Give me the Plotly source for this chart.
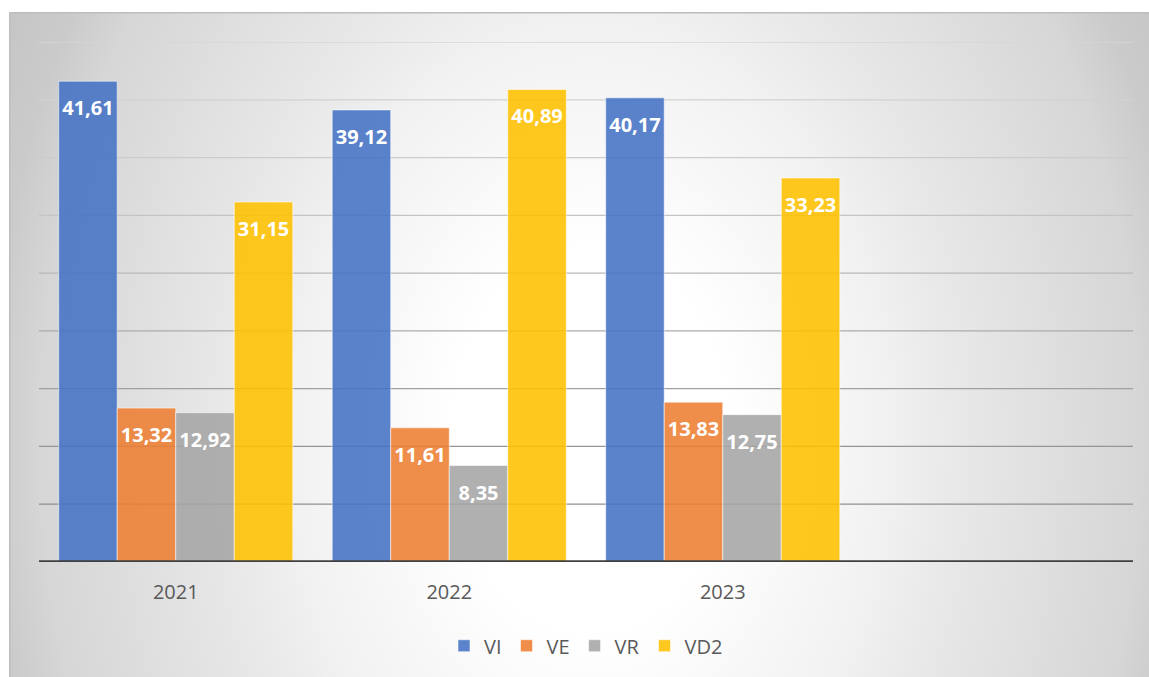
import base64
import plotly.graph_objects as go

# ---- data ----
years = ["2021", "2022", "2023"]
series_names = ["VI", "VE", "VR", "VD2"]
vi = [41.61, 39.12, 40.17]
ve = [13.32, 11.61, 13.83]
vr = [12.92, 8.35, 12.75]
vd2 = [31.15, 40.89, 33.23]
y_ticks = [5, 10, 15, 20, 25, 30, 35, 40, 45]

series_values = [vi, ve, vr, vd2]
series_colors = ["rgba(68,114,196,0.88)", "rgba(237,125,49,0.88)",
                 "rgba(165,165,165,0.88)", "rgba(255,192,0,0.88)"]

W, H = 1149, 677
ML, MR, MT, MB = 39, 16, 42, 115
PW, PH = W - ML - MR, H - MT - MB

# ---- radial gradient background (chart area) ----
FX, FY = 9, 12
FW, FH = 1150, 670
cx, cy = 581, 428
svg = f"""<svg xmlns='http://www.w3.org/2000/svg' width='{FW}' height='{FH}' viewBox='0 0 {FW} {FH}' preserveAspectRatio='none'>
<defs><radialGradient id='g' gradientUnits='userSpaceOnUse' cx='{cx}' cy='{cy}' r='680'
 gradientTransform='translate({cx} {cy}) scale(1 1.4) translate({-cx} {-cy})'>
<stop offset='0' stop-color='#ffffff'/>
<stop offset='0.2' stop-color='#ffffff'/>
<stop offset='0.44' stop-color='#f1f1f1'/>
<stop offset='0.53' stop-color='#e9e9e9'/>
<stop offset='0.81' stop-color='#d6d6d6'/>
<stop offset='0.88' stop-color='#cbcbcb'/>
<stop offset='0.97' stop-color='#c5c5c5'/>
<stop offset='1' stop-color='#c4c4c4'/>
</radialGradient></defs>
<rect x='0' y='0' width='{FW}' height='{FH}' fill='url(#g)'/>
<path d='M0.75 {FH} V0.75 H{FW}' fill='none' stroke='#bdbdbd' stroke-width='1.5'/>
</svg>"""
src = "data:image/svg+xml;base64," + base64.b64encode(svg.encode()).decode()

fig = go.Figure()
for name, vals, col in zip(series_names, series_values, series_colors):
    fig.add_trace(go.Bar(
        name=name, x=years, y=vals,
        marker=dict(color=col, line=dict(color="rgba(255,255,255,0.55)", width=1)),
        texttemplate="<span style='font-size:5px'>\u00a0</span><br>%{y:.2f}",
        textposition="inside", insidetextanchor="end", textangle=0,
        constraintext="none",
        textfont=dict(family="Open Sans", size=20, color="white", weight="bold"),
        hoverinfo="skip",
    ))

# gridlines with gradient tone (lighter at top, darker at bottom)
grays = [0x8f, 0x95, 0xa0, 0xab, 0xb8, 0xc4, 0xcc, 0xd2, 0xd6]
shapes = []
for v, g in zip(y_ticks, grays):
    shapes.append(dict(type="line", xref="paper", yref="y", x0=0, x1=1, y0=v, y1=v,
                       line=dict(color=f"rgb({g},{g},{g})", width=1.25), layer="below"))
shapes.append(dict(type="line", xref="paper", yref="y", x0=0, x1=1, y0=0, y1=0,
                   line=dict(color="#404040", width=3.5), layer="above"))

fig.update_layout(
    width=W, height=H,
    margin=dict(l=ML, r=MR, t=MT, b=MB, pad=0),
    paper_bgcolor="white", plot_bgcolor="rgba(0,0,0,0)",
    barmode="group", bargap=0.144, bargroupgap=0,
    separators=",.",
    font=dict(family="Open Sans", color="#595959"),
    showlegend=True,
    legend=dict(orientation="h", x=0.5, xanchor="center", y=-0.161, yanchor="middle",
                font=dict(family="Open Sans", size=20, color="#595959"),
                itemwidth=30, bgcolor="rgba(0,0,0,0)"),
    xaxis=dict(type="category", range=[-0.5, 3.5], showgrid=False, zeroline=False,
               showline=False, ticks="", ticklabelstandoff=16,
               tickfont=dict(family="Open Sans", size=20, color="#595959")),
    yaxis=dict(range=[0, 45], showgrid=False, zeroline=False, showline=False,
               showticklabels=False, ticks=""),
    shapes=shapes,
    images=[dict(source=src, xref="paper", yref="paper",
                 x=(FX - ML) / PW, y=(H - MB - FY) / PH,
                 sizex=FW / PW, sizey=FH / PH,
                 xanchor="left", yanchor="top", sizing="stretch", layer="below")],
)

fig.write_html("out.html", config={"displayModeBar": False},
               post_script="document.body.style.margin='0';document.body.style.overflow='hidden';")
